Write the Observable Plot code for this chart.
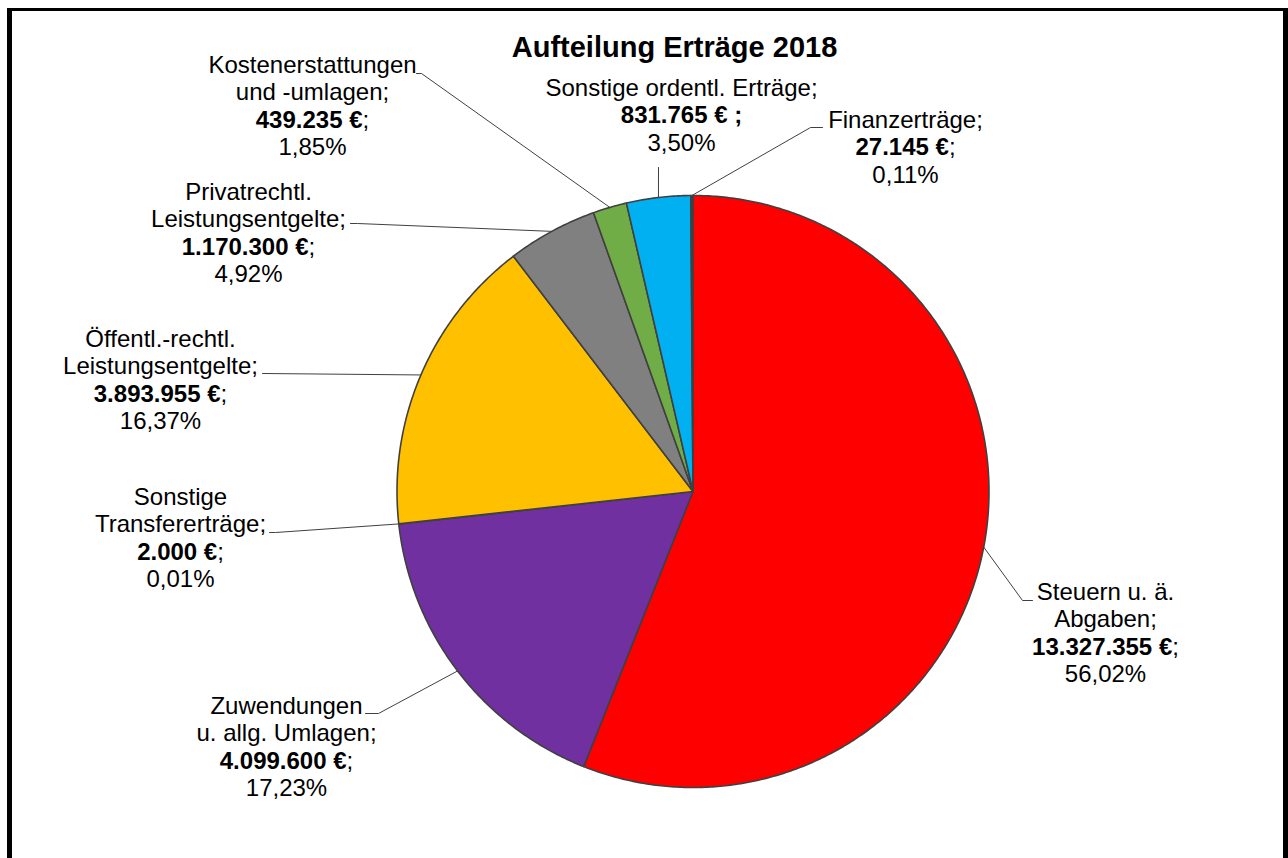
<!DOCTYPE html>
<html>
<head>
<meta charset="utf-8">
<script src="https://cdn.jsdelivr.net/npm/d3@7"></script>
<script src="https://cdn.jsdelivr.net/npm/@observablehq/plot@0.6"></script>
<style>
  html, body { margin: 0; padding: 0; background: #fff; overflow: hidden; }
  #chart { position: absolute; left: 0; top: 0; }
  #frame { position: absolute; left: 7px; top: 8px; width: 1281px; height: 850px; box-sizing: border-box;
           border-left: 5px solid #000; border-top: 3px solid #000; border-right: 5px solid #000; pointer-events: none; }
</style>
</head>
<body>
<div id="chart"></div>
<div id="frame"></div>
<script>
// ---------- data ----------
const title = "Aufteilung Erträge 2018";
const categories = [
  "Steuern u. ä.\nAbgaben",
  "Zuwendungen\nu. allg. Umlagen",
  "Sonstige\nTransfererträge",
  "Öffentl.-rechtl.\nLeistungsentgelte",
  "Privatrechtl.\nLeistungsentgelte",
  "Kostenerstattungen\nund -umlagen",
  "Sonstige ordentl. Erträge",
  "Finanzerträge"
];
const values = [13327355, 4099600, 2000, 3893955, 1170300, 439235, 831765, 27145];
const colors = ["#FF0000", "#7030A0", "#4472C4", "#FFC000", "#808080", "#70AD47", "#00B0F0", "#3F3F3F"];

// ---------- layout (pixels of the 1288x858 frame) ----------
const W = 1288, H = 858, CX = 692.5, CY = 491, R = 296;
const FONT = "'Liberation Sans', Arial, sans-serif";
const FS = 24, LH = 27.6, TITLE_FS = 29;
const titlePos = [674, 56];
// label block centre x, first baseline y, leader start (text side), optional elbow
const labelLayout = [
  {x: 1105, y: 599, start: [1032, 600], elbow: [1022, 600]},
  {x: 286,  y: 713, start: [365, 713],  elbow: [378, 713]},
  {x: 180,  y: 504, start: [269, 532],  elbow: [275, 532]},
  {x: 160,  y: 346, start: [262, 373],  elbow: null},
  {x: 248,  y: 199, start: [350, 223],  elbow: [357, 223]},
  {x: 312,  y: 72,  start: [416, 73],   elbow: [421, 73]},
  {x: 681,  y: 95,  start: [658, 167],  elbow: null, boldSemi: true},
  {x: 905,  y: 127, start: [822, 127],  elbow: [810, 127]}
];

// pixel -> data units (pie of radius 1 centred at 0,0)
const ux = px => (px - CX) / R;
const uy = py => (CY - py) / R;

const loc = d3.formatLocale({decimal: ",", thousands: ".", grouping: [3], currency: ["", " €"], percent: "%"});
const fmtValue = loc.format("$,.0f");
const fmtPct = loc.format(".2%");
const total = d3.sum(values);

const arcs = d3.pie().sort(null).value(d => d)(values);

// slice polygons
const slicePts = [];
arcs.forEach((a, i) => {
  const cat = categories[i];
  slicePts.push({cat, u: 0, v: 0});
  const n = Math.max(2, Math.ceil((a.endAngle - a.startAngle) / (Math.PI / 360)));
  for (let k = 0; k <= n; k++) {
    const t = a.startAngle + (a.endAngle - a.startAngle) * k / n;
    slicePts.push({cat, u: Math.sin(t), v: Math.cos(t)});
  }
  slicePts.push({cat, u: 0, v: 0});
});

// leader lines
const leaderPts = [];
arcs.forEach((a, i) => {
  const L = labelLayout[i], cat = categories[i];
  const mid = (a.startAngle + a.endAngle) / 2;
  leaderPts.push({cat, u: ux(L.start[0]), v: uy(L.start[1])});
  if (L.elbow) leaderPts.push({cat, u: ux(L.elbow[0]), v: uy(L.elbow[1])});
  leaderPts.push({cat, u: Math.sin(mid), v: Math.cos(mid)});
});

// text rows
const ctx = document.createElement("canvas").getContext("2d");
const measure = (s, bold) => { ctx.font = `${bold ? "bold " : ""}${FS}px ${FONT}`; return ctx.measureText(s).width; };
const rows = [];
values.forEach((val, i) => {
  const L = labelLayout[i];
  const nameLines = (categories[i] + ";").split("\n");
  let k = 0;
  nameLines.forEach(t => rows.push({kind: "rm", text: t, u: ux(L.x), v: uy(L.y + LH * k++)}));
  const vs = fmtValue(val);
  const yv = uy(L.y + LH * k++);
  if (L.boldSemi) {
    rows.push({kind: "bm", text: vs + " ;", u: ux(L.x), v: yv});
  } else {
    const bw = measure(vs, true), sw = measure(";", false);
    const xEnd = L.x - (bw + sw) / 2 + bw;
    rows.push({kind: "be", text: vs, u: ux(xEnd), v: yv});
    rows.push({kind: "rs", text: ";", u: ux(xEnd), v: yv});
  }
  rows.push({kind: "rm", text: fmtPct(val / total), u: ux(L.x), v: uy(L.y + LH * k++)});
});

const textOpts = (kind, anchor, weight) => ({
  filter: d => d.kind === kind, x: "u", y: "v", text: "text",
  textAnchor: anchor, lineAnchor: "bottom", fontSize: FS, fontWeight: weight,
  fontFamily: FONT, fill: "#000"
});

const chart = Plot.plot({
  width: W, height: H, margin: 0,
  style: {background: "transparent"},
  x: {domain: [ux(0), ux(W)], axis: null},
  y: {domain: [uy(H), uy(0)], axis: null},
  color: {domain: categories, range: colors},
  marks: [
    Plot.line(slicePts, {x: "u", y: "v", z: "cat", fill: "cat", stroke: "#404040", strokeWidth: 1.6, strokeLinejoin: "round"}),
    Plot.line(leaderPts, {x: "u", y: "v", z: "cat", stroke: "#404040", strokeWidth: 1}),
    Plot.text(rows, textOpts("rm", "middle", "normal")),
    Plot.text(rows, textOpts("bm", "middle", "bold")),
    Plot.text(rows, textOpts("be", "end", "bold")),
    Plot.text(rows, textOpts("rs", "start", "normal")),
    Plot.text([title], {x: ux(titlePos[0]), y: uy(titlePos[1]), text: d => d, textAnchor: "middle", lineAnchor: "bottom",
      fontSize: TITLE_FS, fontWeight: "bold", fontFamily: FONT, fill: "#000"})
  ]
});
document.getElementById("chart").appendChild(chart);
</script>
</body>
</html>
